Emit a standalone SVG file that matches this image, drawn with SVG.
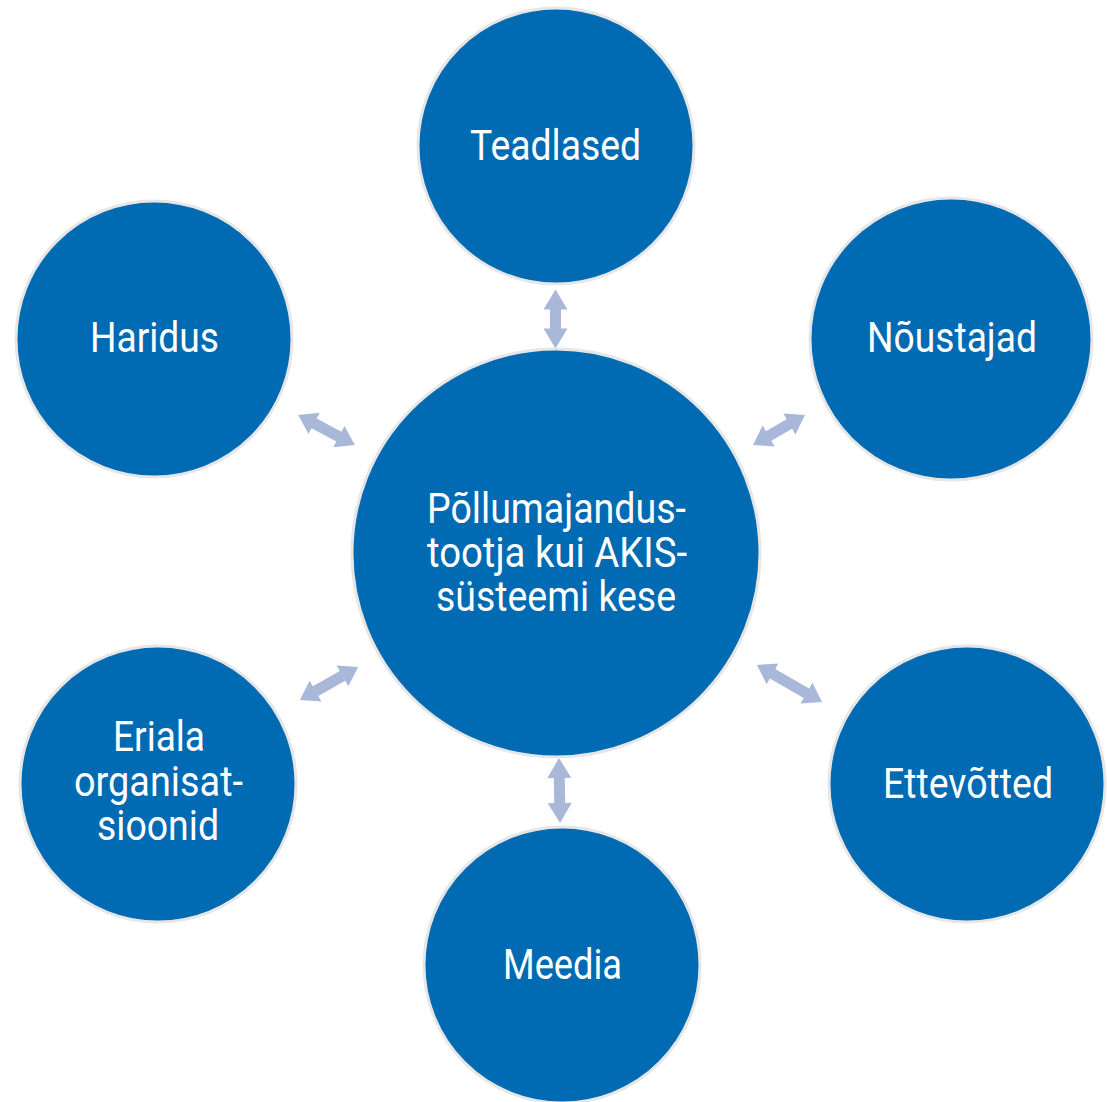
<svg xmlns="http://www.w3.org/2000/svg" width="1107" height="1102" viewBox="0 0 1107 1102">
<style>
.n{fill:#006AB2;stroke:#E6E6E6;stroke-width:3}
.t{font-family:Roboto,"Liberation Sans",sans-serif;font-size:42px;fill:#FFFFFF;text-anchor:middle}
.a{fill:#A9B8D9}
</style>
<rect width="1107" height="1102" fill="#FFFFFF"/>
<g id="connectors">
<g transform="translate(555.5,319) rotate(90)"><polygon class="a" points="-29.5,0 -9.5,-12 -9.5,-5.5 9.5,-5.5 9.5,-12 29.5,0 9.5,12 9.5,5.5 -9.5,5.5 -9.5,12"/></g>
<g transform="translate(326.5,430) rotate(27.8)"><polygon class="a" points="-32,0 -14,-12 -14,-5.5 14,-5.5 14,-12 32,0 14,12 14,5.5 -14,5.5 -14,12"/></g>
<g transform="translate(779,430) rotate(-30)"><polygon class="a" points="-30,0 -12,-12 -12,-5.5 12,-5.5 12,-12 30,0 12,12 12,5.5 -12,5.5 -12,12"/></g>
<g transform="translate(329,683.5) rotate(-29.6)"><polygon class="a" points="-33.5,0 -15.5,-12 -15.5,-5.5 15.5,-5.5 15.5,-12 33.5,0 15.5,12 15.5,5.5 -15.5,5.5 -15.5,12"/></g>
<g transform="translate(789.5,683.5) rotate(29.7)"><polygon class="a" points="-37.5,0 -19.5,-12 -19.5,-5.5 19.5,-5.5 19.5,-12 37.5,0 19.5,12 19.5,5.5 -19.5,5.5 -19.5,12"/></g>
<g transform="translate(559.5,790.5) rotate(89)"><polygon class="a" points="-32.5,0 -12.5,-12 -12.5,-5.5 12.5,-5.5 12.5,-12 32.5,0 12.5,12 12.5,5.5 -12.5,5.5 -12.5,12"/></g>
</g>
<g id="center">
<circle class="n" cx="556" cy="553" r="204"/>
<text class="t" x="556.5" y="523" textLength="259" lengthAdjust="spacingAndGlyphs">Põllumajandus-</text>
<text class="t" x="557" y="567" textLength="260" lengthAdjust="spacingAndGlyphs">tootja kui AKIS-</text>
<text class="t" x="556" y="611" textLength="240" lengthAdjust="spacingAndGlyphs">süsteemi kese</text>
</g>
<g id="teadlased">
<circle class="n" cx="556" cy="146" r="138"/>
<text class="t" x="555.5" y="160" textLength="171" lengthAdjust="spacingAndGlyphs">Teadlased</text>
</g>
<g id="noustajad">
<circle class="n" cx="951" cy="339" r="141"/>
<text class="t" x="952" y="352" textLength="170" lengthAdjust="spacingAndGlyphs">Nõustajad</text>
</g>
<g id="haridus">
<circle class="n" cx="154" cy="339" r="138"/>
<text class="t" x="154.5" y="352" textLength="129" lengthAdjust="spacingAndGlyphs">Haridus</text>
</g>
<g id="eriala">
<circle class="n" cx="158" cy="784" r="138"/>
<text class="t" x="159" y="751" textLength="92" lengthAdjust="spacingAndGlyphs">Eriala</text>
<text class="t" x="158.5" y="796" textLength="169" lengthAdjust="spacingAndGlyphs">organisat-</text>
<text class="t" x="158" y="840" textLength="122" lengthAdjust="spacingAndGlyphs">sioonid</text>
</g>
<g id="ettevotted">
<circle class="n" cx="967" cy="784" r="138"/>
<text class="t" x="968" y="798" textLength="170" lengthAdjust="spacingAndGlyphs">Ettevõtted</text>
</g>
<g id="meedia">
<circle class="n" cx="562" cy="965" r="138"/>
<text class="t" x="562.5" y="979" textLength="119" lengthAdjust="spacingAndGlyphs">Meedia</text>
</g>
</svg>
